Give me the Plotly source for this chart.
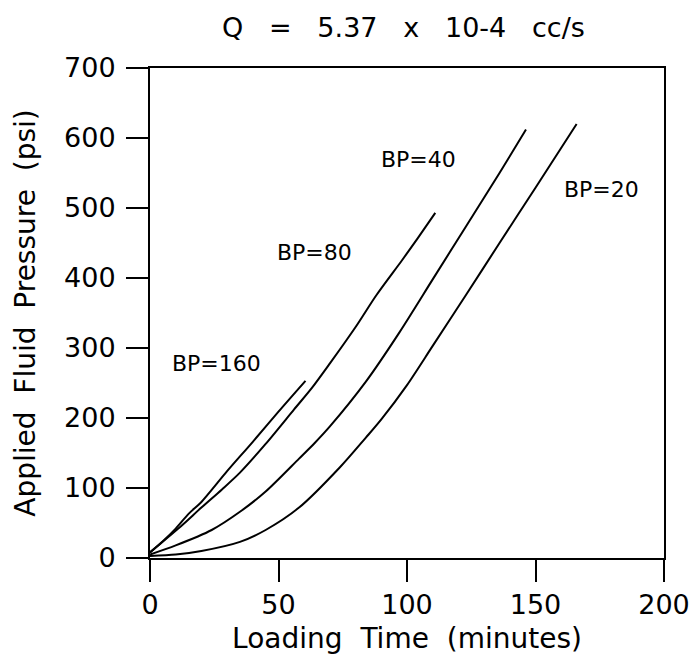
import plotly.graph_objects as go

# Data
bp160_t = [0, 5, 10, 15, 20, 30, 40, 50, 60.5]
bp160_p = [8, 24, 42, 63, 80, 124, 166, 209, 253]

bp80_t = [0, 11, 20, 28, 35, 45, 56, 63, 70, 80, 88, 98, 104, 111]
bp80_p = [8, 42, 72, 98, 122, 163, 212, 243, 278, 330, 375, 425, 456, 493]

bp40_t = [0, 10, 24, 35, 45, 58, 64, 70, 84, 97, 110, 123, 136, 146.3]
bp40_p = [5, 18, 40, 66, 95, 142, 164, 188, 252, 322, 398, 474, 550, 612]

bp20_t = [0, 10, 20, 35, 45, 58, 74, 84, 90, 100, 110, 123, 136, 150, 166]
bp20_p = [3, 5, 10, 23, 40, 72, 130, 172, 198, 247, 303, 376, 450, 529, 620]

series = [
    ("BP=160", bp160_t, bp160_p),
    ("BP=80", bp80_t, bp80_p),
    ("BP=40", bp40_t, bp40_p),
    ("BP=20", bp20_t, bp20_p),
]

label_text = ["BP=160", "BP=80", "BP=40", "BP=20"]
label_x = [25.9, 64, 104.4, 175.8]
label_y = [278, 436, 569, 527]

x_ticks = [0, 50, 100, 150, 200]
y_ticks = [0, 100, 200, 300, 400, 500, 600, 700]

FONT = "DejaVu Sans"
SP3 = "&nbsp;&nbsp;&nbsp;"
SP2 = "&nbsp;&nbsp;"

fig = go.Figure()
for name, t, p in series:
    fig.add_trace(go.Scatter(x=t, y=p, mode="lines", name=name,
                             line=dict(color="black", width=2, shape="spline", smoothing=0.8),
                             showlegend=False))

for txt, lx, ly in zip(label_text, label_x, label_y):
    fig.add_annotation(x=lx, y=ly, text=txt, showarrow=False,
                       font=dict(family=FONT, size=22, color="black"))

title_text = SP3.join(["Q", "=", "5.37", "x", "10-4", "cc/s"])
fig.add_annotation(xref="paper", yref="paper", x=0.493, y=1.0, yshift=41,
                   text=title_text, showarrow=False,
                   font=dict(family=FONT, size=27, color="black"),
                   yanchor="middle")

fig.update_layout(
    width=693, height=660,
    margin=dict(l=150, r=29, t=68, b=102),
    plot_bgcolor="white", paper_bgcolor="white",
    font=dict(family=FONT, size=27, color="black"),
)
fig.update_xaxes(range=[0, 200], tickvals=x_ticks, ticks="outside", ticklen=22,
                 tickwidth=2, tickcolor="black", showline=True, linewidth=2,
                 linecolor="black", mirror=True, showgrid=False, zeroline=False,
                 automargin=False, tickfont=dict(size=27),
                 title=dict(text=SP2.join(["Loading", "Time", "(minutes)"]),
                            font=dict(size=28), standoff=9))
fig.update_yaxes(range=[0, 700], tickvals=y_ticks, ticks="outside", ticklen=22,
                 tickwidth=2, tickcolor="black", showline=True, linewidth=2,
                 linecolor="black", mirror=True, showgrid=False, zeroline=False,
                 automargin=False, tickfont=dict(size=27), ticklabelstandoff=5,
                 title=dict(text=SP2.join(["Applied", "Fluid", "Pressure", "(psi)"]),
                            font=dict(size=28), standoff=20))

# remove the default 8px page margin so the figure fills the window exactly
fig.write_html("out.html",
               config={"displayModeBar": False},
               post_script="document.body.style.margin='0';document.body.style.overflow='hidden';")
